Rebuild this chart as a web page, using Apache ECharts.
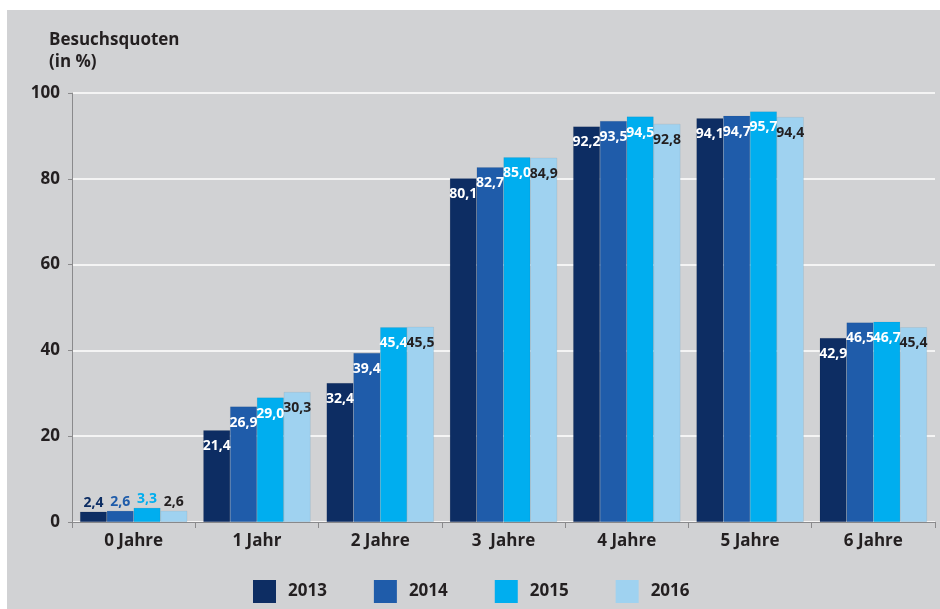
<!DOCTYPE html>
<html><head><meta charset="utf-8">
<script src="https://cdn.jsdelivr.net/npm/echarts@6/dist/echarts.min.js"></script>
<style>html,body{margin:0;padding:0;background:#fff}#c{width:940px;height:609px}</style>
</head><body><div id="c"></div>
<script>
const categories = ['0 Jahre', '1 Jahr', '2 Jahre', '3  Jahre', '4 Jahre', '5 Jahre', '6 Jahre'];
const years = ['2013', '2014', '2015', '2016'];
const v2013 = [2.4, 21.4, 32.4, 80.1, 92.2, 94.1, 42.9];
const v2014 = [2.6, 26.9, 39.4, 82.7, 93.5, 94.7, 46.5];
const v2015 = [3.3, 29.0, 45.4, 85.0, 94.5, 95.7, 46.7];
const v2016 = [2.6, 30.3, 45.5, 84.9, 92.8, 94.4, 45.4];
const yTicks = [0, 20, 40, 60, 80, 100];

const colors = ['#0d2d63', '#1f5caa', '#00aeef', '#9fd2f0'];
const insideLabelColors = ['#ffffff', '#ffffff', '#ffffff', '#231f20'];
const outsideLabelColors = ['#0d2d63', '#1f5caa', '#00aeef', '#231f20'];
const FONT = '"Open Sans", "Noto Sans", sans-serif';
const allValues = [v2013, v2014, v2015, v2016];

const fmt = v => v.toFixed(1).replace('.', ',');

const series = years.map((y, i) => ({
  name: y,
  type: 'bar',
  barGap: '0%',
  barCategoryGap: '13%',
  itemStyle: { color: colors[i], borderColor: 'rgba(0,0,0,0.12)', borderWidth: 0.5 },
  data: allValues[i].map((v, j) => {
    const small = v < 10;
    return {
      value: v,
      label: {
        show: true,
        position: small ? 'top' : 'insideTop',
        distance: small ? 2 : 9,
        color: small ? outsideLabelColors[i] : insideLabelColors[i],
        fontFamily: FONT,
        fontWeight: 'bold',
        fontSize: 14,
        formatter: () => fmt(v)
      }
    };
  })
}));

const chart = echarts.init(document.getElementById('c'), null, { renderer: 'canvas' });
chart.setOption({
  backgroundColor: '#ffffff',
  animation: false,
  graphic: [{
    type: 'rect', z: -10, silent: true,
    shape: { x: 7, y: 10, width: 933, height: 599 },
    style: { fill: '#d1d2d4' }
  }, {
    type: 'text', left: 49, top: 29,
    style: { text: 'Besuchsquoten\n(in %)', fill: '#231f20', font: 'bold 17px ' + FONT, lineHeight: 22 }
  }],
  grid: { left: 72, right: 5, top: 93, bottom: 87, containLabel: false },
  legend: {
    data: years,
    top: 580,
    left: 253,
    padding: 0,
    itemWidth: 23,
    itemHeight: 23,
    itemGap: 47,
    icon: 'rect',
    itemStyle: { borderWidth: 0 },
    textStyle: { color: '#231f20', fontFamily: FONT, fontWeight: 'bold', fontSize: 17, padding: [0, 0, 0, 7] }
  },
  xAxis: {
    type: 'category',
    data: categories,
    axisLine: { lineStyle: { color: '#8a8a8c', width: 1 } },
    axisTick: { show: true, length: 6, lineStyle: { color: '#8a8a8c' } },
    axisLabel: { color: '#231f20', fontFamily: FONT, fontWeight: 'bold', fontSize: 17, margin: 11 }
  },
  yAxis: {
    type: 'value',
    min: 0, max: 100, interval: 20,
    axisLine: { show: true, lineStyle: { color: '#8a8a8c', width: 1 } },
    axisTick: { show: true, length: 4, lineStyle: { color: '#8a8a8c' } },
    splitLine: { lineStyle: { color: '#ffffff', width: 1.5 } },
    axisLabel: {
      color: '#231f20', fontFamily: FONT, fontWeight: 'bold', fontSize: 17, margin: 12,
      formatter: v => yTicks.includes(v) ? String(v) : ''
    }
  },
  series: series
});
</script></body></html>
